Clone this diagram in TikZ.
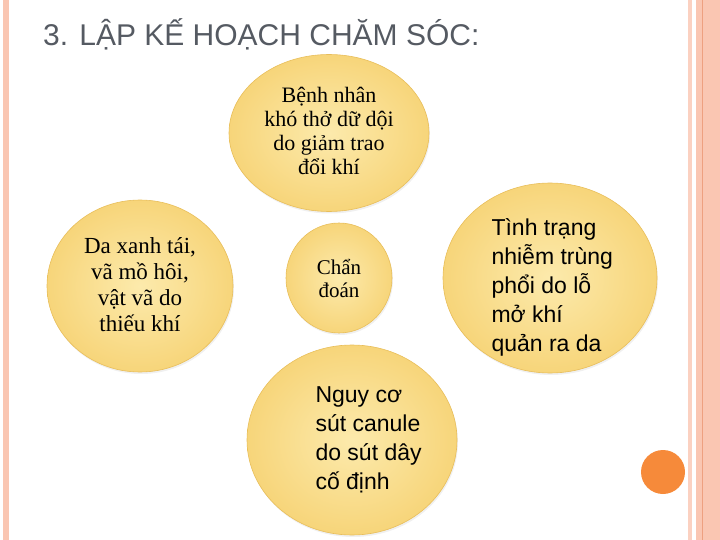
\documentclass[tikz,border=0pt]{standalone}
\usepackage{fontspec}
\setmainfont{Liberation Serif}
\setsansfont{Liberation Sans}
\usepackage{tikz}
\usetikzlibrary{shapes.geometric,shadows}

\definecolor{bubblein}{RGB}{252,234,172}
\definecolor{bubbleout}{RGB}{247,213,122}
\definecolor{bubbleline}{RGB}{232,190,90}
\definecolor{titlegray}{RGB}{85,90,98}
\definecolor{framepink}{RGB}{250,198,178}
\definecolor{framedark}{RGB}{238,160,128}
\definecolor{dotorange}{RGB}{246,138,58}

\tikzset{
  bubble/.style={ellipse,draw=bubbleline,line width=.6pt,inner color=bubblein,outer color=bubbleout,
    drop shadow={opacity=.12,shadow xshift=1pt,shadow yshift=-2pt}},
  serifnote/.style={align=center,font=\fontsize{22}{24}\selectfont},
  sansnote/.style={align=left,anchor=west,font=\sffamily\fontsize{23}{29}\selectfont}
}

\begin{document}
\begin{tikzpicture}[x=1pt,y=-1pt]
          \useasboundingbox (0,0) rectangle (720,540);
          %% frame strips
          \fill[framepink] (3,0) rectangle (9,540);
          \fill[framepink!80] (688,0) rectangle (692,540);
          \fill[framepink] (696,0) rectangle (720,540);
          \fill[framedark] (702,0) rectangle (703,540);
          \node[anchor=base west,text=titlegray,font=\sffamily\fontsize{30}{34}\selectfont,inner sep=0pt] (title) at (43,46) {3. LẬP KẾ HOẠCH CHĂM SÓC:};
          \node[bubble,minimum width=200pt,minimum height=157pt] (cause) at (329,133) {};      % top
          \node[bubble,minimum width=186pt,minimum height=172pt] (sign) at (140,286) {};       % left
          \node[bubble,minimum width=106pt,minimum height=110pt] (diag) at (339,278) {};       % middle
          \node[bubble,minimum width=214pt,minimum height=190pt] (infect) at (550,278) {};     % right
          \node[bubble,minimum width=210pt,minimum height=190pt] (canule) at (352,440) {};     % bottom
          \node[serifnote] (causetext) at (329,131) {Bệnh nhân\\khó thở dữ dội\\do giảm trao\\đổi khí};
          \node[serifnote,font=\fontsize{23}{26}\selectfont] (signtext) at (140,285) {Da xanh tái,\\vã mồ hôi,\\vật vã do\\thiếu khí};
          \node[serifnote,font=\fontsize{21}{23}\selectfont] (diagtext) at (339,278) {Chẩn\\đoán};
          \node[sansnote] (infecttext) at (488,287) {Tình trạng\\nhiễm trùng\\phổi do lỗ\\mở khí\\quản ra da};
          \node[sansnote] (canuletext) at (312,440) {Nguy cơ\\sút canule\\do sút dây\\cố định};
          \fill[dotorange] (663,472) circle (22) node (dot) {};
\end{tikzpicture}
\end{document}
